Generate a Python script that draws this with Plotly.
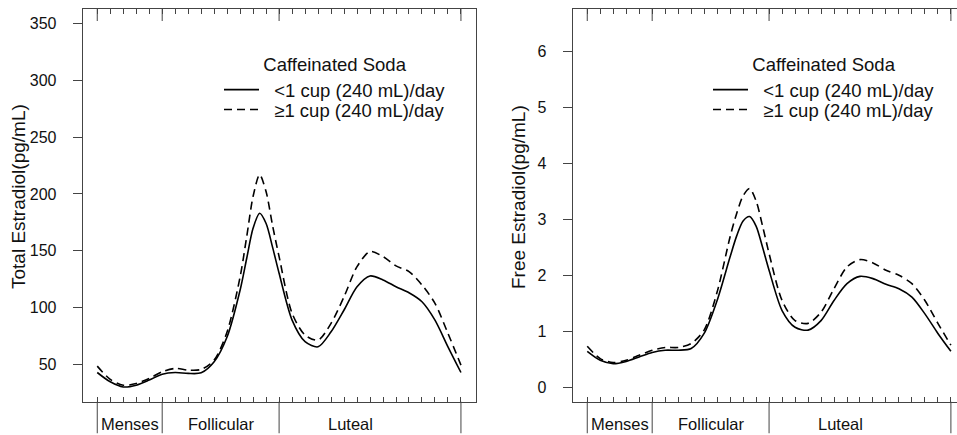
import plotly.graph_objects as go

# ---------------- data ----------------
days = [0, 1, 2, 3, 4, 5, 6, 7, 8, 9, 10, 11, 11.5, 12, 12.5, 13, 13.5, 14, 15, 16,
        17, 18, 19, 20, 21, 22, 23, 24, 25, 26, 27, 28]

total_low = [42.9, 34.7, 30.2, 31.7, 36.2, 41.4, 42.9, 42.1, 42.6, 52.3, 74.3, 115.5,
             143.0, 170.0, 183.0, 174.0, 153.0, 130.2, 89.0, 70.0, 65.5, 78.7, 97.9,
             118.4, 127.9, 124.4, 118.4, 113.1, 105.2, 89.0, 65.5, 42.9]
total_high = [48.5, 36.8, 31.7, 33.2, 37.7, 43.5, 46.5, 45.0, 45.6, 53.8, 78.7, 127.2,
              162.0, 198.0, 217.0, 202.0, 172.0, 144.9, 95.0, 75.8, 71.4, 86.2, 109.6,
              136.1, 149.3, 144.9, 136.7, 131.7, 119.9, 103.8, 77.3, 49.4]

free_low = [0.64, 0.48, 0.42, 0.46, 0.54, 0.62, 0.66, 0.66, 0.69, 0.96, 1.55, 2.33,
            2.70, 2.97, 3.05, 2.88, 2.50, 2.09, 1.37, 1.07, 1.02, 1.19, 1.55, 1.85,
            1.98, 1.94, 1.84, 1.76, 1.61, 1.31, 0.96, 0.64]
free_high = [0.73, 0.51, 0.44, 0.48, 0.57, 0.66, 0.71, 0.71, 0.78, 1.02, 1.70, 2.69,
             3.10, 3.42, 3.55, 3.33, 2.88, 2.39, 1.55, 1.19, 1.14, 1.34, 1.76, 2.15,
             2.28, 2.22, 2.09, 2.00, 1.85, 1.55, 1.14, 0.75]

series_names = ["<1 cup (240 mL)/day", "\u22651 cup (240 mL)/day"]
legend_title = "Caffeinated Soda"

phase_bounds = [0, 5, 14, 28]
phase_names = ["Menses", "Follicular", "Luteal"]
phase_label_x = [2.5, 9.6, 19.5]

total_ticks = [50, 100, 150, 200, 250, 300, 350]
free_ticks = [0, 1, 2, 3, 4, 5, 6]
minor_days = list(range(0, 29))

left_title = "Total Estradiol(pg/mL)"
right_title = "Free Estradiol(pg/mL)"

# ---------------- style ----------------
FONT = "Liberation Sans, Arial, sans-serif"
W, H = 957, 435
FRAME = "#444444"
y_dom = [(H - 401.7) / H, (H - 9) / H]
x_dom_left = [82.7 / W, 475.5 / W]
x_dom_right = [572.7 / W, 1.0]
PAD = "\u00a0\u00a0"  # gap between legend sample line and its label

fig = go.Figure()

dash_style = "8px,5px"
panels = [
    ("x", "y", total_low, total_high, "legend", "legend2"),
    ("x2", "y2", free_low, free_high, "legend3", "legend4"),
]
for xa, ya, lo, hi, lg1, lg2 in panels:
    fig.add_trace(go.Scatter(x=days, y=lo, mode="lines", name=PAD + series_names[0],
                             xaxis=xa, yaxis=ya, legend=lg1, showlegend=True,
                             line=dict(color="black", width=1.6, shape="spline", smoothing=0.8)))
    fig.add_trace(go.Scatter(x=days, y=hi, mode="lines", name=PAD + series_names[1],
                             xaxis=xa, yaxis=ya, legend=lg2, showlegend=True,
                             line=dict(color="black", width=1.6, dash=dash_style,
                                       shape="spline", smoothing=0.8)))

xcommon = dict(showline=True, linecolor=FRAME, linewidth=1, mirror="ticks",
               ticks="inside", ticklen=5, tickcolor=FRAME, tickwidth=1,
               tickvals=minor_days, showticklabels=False, showgrid=False,
               zeroline=False)
ycommon = dict(showline=True, linecolor=FRAME, linewidth=1, ticks="outside",
               ticklen=9, tickcolor=FRAME, tickwidth=1, showgrid=False,
               zeroline=False, tickfont=dict(family=FONT, size=16, color="#111"),
               ticklabelstandoff=13)
title_font = dict(family=FONT, size=19, color="#111")

fig.update_layout(
    width=W, height=H,
    margin=dict(l=0, r=0, t=0, b=0),
    paper_bgcolor="white", plot_bgcolor="white",
    showlegend=True,
    font=dict(family=FONT, color="#111"),
    xaxis=dict(domain=x_dom_left, range=[-1.12, 29.12], anchor="y", **xcommon),
    yaxis=dict(domain=y_dom, range=[17.2, 362.8], anchor="x", mirror=True,
               tickvals=total_ticks, **ycommon),
    xaxis2=dict(domain=x_dom_right, range=[-1.12, 28.47], anchor="y2", **xcommon),
    yaxis2=dict(domain=y_dom, range=[-0.26, 6.76], anchor="x2", mirror=False,
                tickvals=free_ticks, **ycommon),
)

# legends: one per row so the row spacing matches
leg_font = dict(family=FONT, size=18.5, color="#111")
def leg(x, y, title=None):
    d = dict(x=x, y=y, xanchor="left", yanchor="top", bgcolor="rgba(0,0,0,0)",
             borderwidth=0, font=leg_font, itemwidth=35, tracegroupgap=0,
             visible=True)
    if title:
        d["title"] = dict(text=title, side="top center", font=leg_font)
    return d

fig.update_layout(
    legend=leg(219 / W, 1 - 47 / H, legend_title),
    legend2=leg(219 / W, 1 - 91 / H),
    legend3=leg(708 / W, 1 - 47 / H, legend_title),
    legend4=leg(708 / W, 1 - 91 / H),
)

# phase dividers, phase labels and y-axis titles
shapes = []
annotations = []
for xr, yr in [("x", "y"), ("x2", "y2")]:
    for b in phase_bounds:
        shapes.append(dict(type="line", xref=xr, yref="paper", x0=b, x1=b,
                           y0=0.004, y1=y_dom[0], line=dict(color=FRAME, width=1)))
        shapes.append(dict(type="line", xref=xr, yref=yr + " domain", x0=b, x1=b,
                           y0=1, y1=1 - 12 / (H * (y_dom[1] - y_dom[0])),
                           line=dict(color=FRAME, width=1)))
    for name, lx in zip(phase_names, phase_label_x):
        annotations.append(dict(text=name, x=lx, xref=xr, y=(H - 424) / H, yref="paper",
                                showarrow=False, xanchor="center", yanchor="middle",
                                font=dict(family=FONT, size=16.5, color="#111")))

for title, xc in [(left_title, 18), (right_title, 518)]:
    annotations.append(dict(text=title, x=xc / W, xref="paper", y=(H - 197) / H,
                            yref="paper", showarrow=False, textangle=-90,
                            xanchor="center", yanchor="middle", font=title_font))
fig.update_layout(shapes=shapes, annotations=annotations)

fig.write_html("out.html")
